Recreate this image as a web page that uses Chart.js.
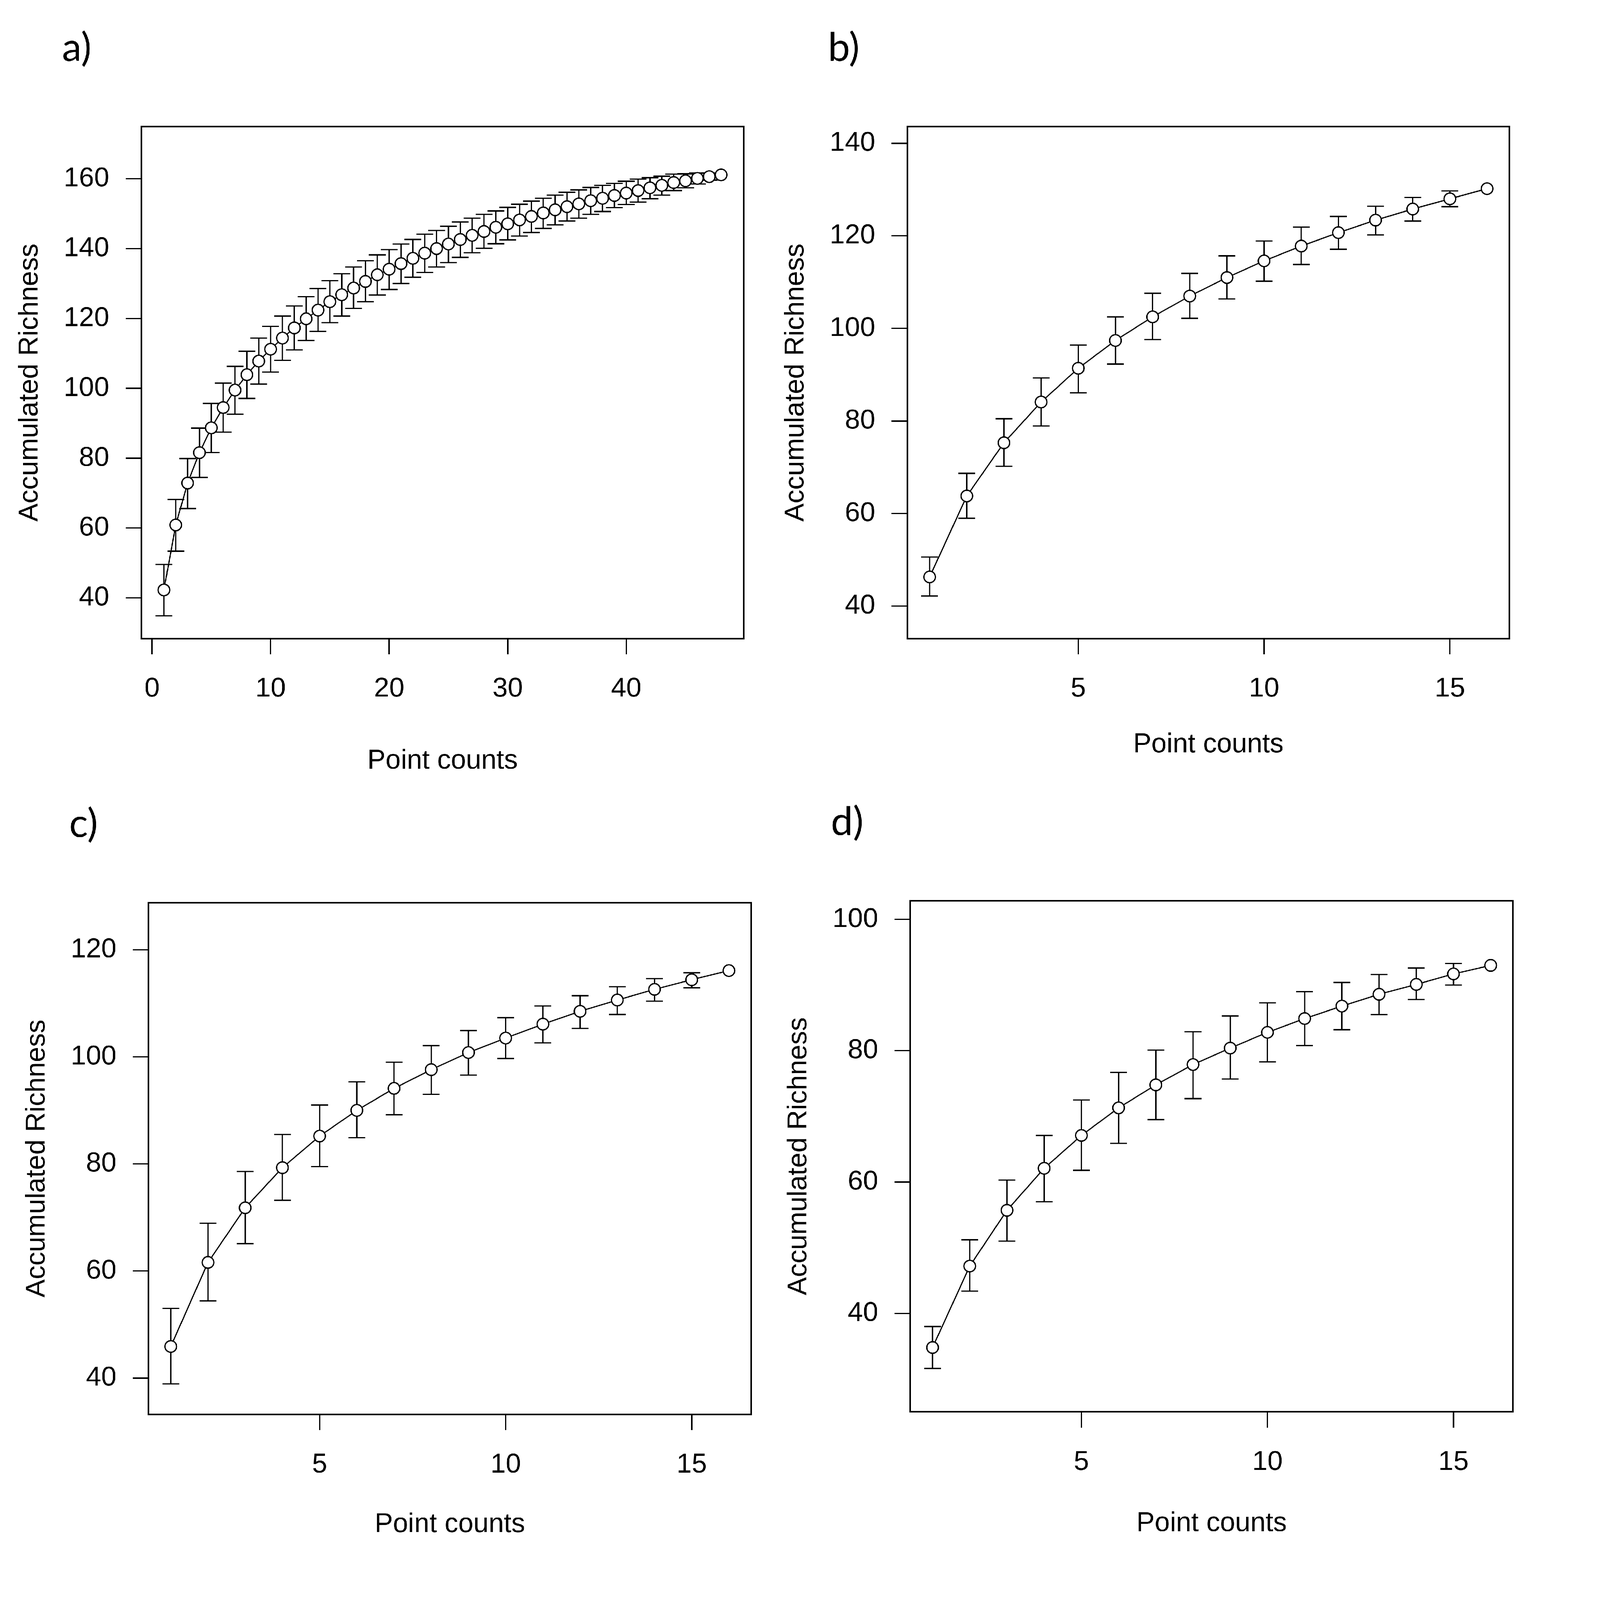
<!DOCTYPE html>
<html>
<head>
<meta charset="utf-8">
<script src="https://cdn.jsdelivr.net/npm/chart.js@4.4.1/dist/chart.umd.min.js"></script>
<style>
  html, body { margin: 0; padding: 0; background: #fff; overflow: hidden; }
  #page { position: relative; width: 6089px; height: 6089px; background: #fff; overflow: hidden; transform-origin: 0 0; }
  #page canvas { position: absolute; }
</style>
</head>
<body>
<div id="page"></div>
<script>
// ---- data ----
const pointsA = [1,2,3,4,5,6,7,8,9,10,11,12,13,14,15,16,17,18,19,20,21,22,23,24,
                 25,26,27,28,29,30,31,32,33,34,35,36,37,38,39,40,41,42,43,44,45,46,47,48];
const richA  = [42.3,60.9,72.9,81.6,88.7,94.5,99.5,103.9,107.8,111.2,114.4,117.3,119.9,122.4,124.8,126.8,
                128.7,130.6,132.5,134.1,135.7,137.2,138.7,140.0,141.3,142.6,143.8,144.9,146.1,147.1,148.2,149.2,
                150.2,151.1,152.0,152.8,153.7,154.4,155.2,155.9,156.6,157.4,158.1,158.9,159.4,160.1,160.6,161.1];
const upperA = [49.6,68.2,79.9,88.6,95.7,101.5,106.3,110.6,114.4,117.7,120.7,123.6,126.2,128.6,130.8,132.8,
                134.7,136.5,138.2,139.7,141.3,142.6,144.1,145.2,146.4,147.6,148.7,149.8,150.8,151.8,152.7,153.6,
                154.4,155.3,156.1,156.8,157.5,158.1,158.7,159.3,159.9,160.3,160.7,161.3,161.4,161.6,161.6,161.1];
const lowerA = [34.9,53.4,65.6,74.5,81.6,87.5,92.6,97.1,101.2,104.7,108.0,111.0,113.7,116.3,118.8,120.7,
                122.9,124.8,126.7,128.3,130.0,131.8,133.2,134.7,136.0,137.5,138.8,140.1,141.4,142.5,143.6,144.6,
                145.8,146.8,147.9,148.7,149.8,150.6,151.7,152.6,153.3,154.3,155.3,156.6,157.4,158.5,159.6,161.1];

const points16 = [1,2,3,4,5,6,7,8,9,10,11,12,13,14,15,16];

const richB  = [46.3,63.8,75.3,84.1,91.4,97.4,102.5,107.0,111.0,114.6,117.8,120.7,123.4,125.8,128.0,130.2];
const upperB = [50.6,68.7,80.5,89.3,96.4,102.5,107.6,111.9,115.7,118.9,121.9,124.2,126.4,128.3,129.7,130.2];
const lowerB = [42.2,59.0,70.2,78.9,86.1,92.3,97.6,102.2,106.4,110.2,113.8,117.1,120.2,123.2,126.3,130.2];

const richC  = [45.9,61.6,71.8,79.3,85.2,90.0,94.1,97.6,100.8,103.5,106.1,108.5,110.6,112.6,114.4,116.1];
const upperC = [53.0,68.9,78.6,85.5,91.0,95.3,99.0,102.1,104.9,107.3,109.5,111.4,113.1,114.6,115.7,116.1];
const lowerC = [38.9,54.4,65.1,73.2,79.5,84.9,89.2,93.0,96.6,99.7,102.6,105.3,107.9,110.4,112.9,116.1];

const richD  = [34.8,47.2,55.7,62.1,67.1,71.3,74.8,77.9,80.4,82.8,84.9,86.8,88.6,90.1,91.7,93.0];
const upperD = [38.0,51.2,60.3,67.1,72.5,76.7,80.1,82.9,85.3,87.3,89.0,90.4,91.6,92.6,93.3,93.0];
const lowerD = [31.6,43.4,51.0,57.0,61.8,65.9,69.5,72.7,75.7,78.3,80.8,83.2,85.5,87.8,90.0,93.0];

const xTicksA = [0,10,20,30,40];
const xTicks16 = [5,10,15];
const yTicksA = [40,60,80,100,120,140,160];
const yTicksB = [40,60,80,100,120,140];
const yTicksC = [40,60,80,100,120];
const yTicksD = [40,60,80,100];

const xTitle = 'Point counts';
const yTitle = 'Accumulated Richness';

// the page is laid out in figure pixels, then scaled to the window
const page = document.getElementById('page');
const fit = (document.documentElement.clientWidth || window.innerWidth) / 6089;
page.style.transform = 'scale(' + fit + ')';

// ---- plugins ----
const errorBars = {
  id: 'errorBars',
  beforeDatasetsDraw(chart, args, opts) {
    const {ctx, scales: {x, y}} = chart;
    ctx.save();
    ctx.strokeStyle = '#000';
    ctx.lineWidth = opts.width;
    opts.xs.forEach((xv, i) => {
      if (opts.upper[i] === opts.lower[i]) return;
      const px = x.getPixelForValue(xv);
      const top = y.getPixelForValue(opts.upper[i]);
      const bot = y.getPixelForValue(opts.lower[i]);
      ctx.beginPath();
      ctx.moveTo(px, top); ctx.lineTo(px, bot);
      ctx.moveTo(px - opts.cap, top); ctx.lineTo(px + opts.cap, top);
      ctx.moveTo(px - opts.cap, bot); ctx.lineTo(px + opts.cap, bot);
      ctx.stroke();
    });
    ctx.restore();
  }
};

const frame = {
  id: 'frame',
  afterDraw(chart) {
    const {ctx, chartArea: a} = chart;
    ctx.save();
    ctx.strokeStyle = '#000';
    ctx.lineWidth = 6;
    ctx.strokeRect(a.left, a.top, a.right - a.left, a.bottom - a.top);
    ctx.restore();
  }
};

const panelTag = {
  id: 'panelTag',
  afterDraw(chart, args, opts) {
    const ctx = chart.ctx;
    ctx.save();
    ctx.fillStyle = '#000';
    ctx.font = '150px Lato, "Open Sans", sans-serif';
    ctx.textBaseline = 'alphabetic';
    ctx.textAlign = 'left';
    ctx.fillText(opts.text, 236, 232);
    ctx.restore();
  }
};

// ---- layout: plot box in figure pixels ----
const LEFT = 538, TOP = 482, RIGHT = 80, BOTTOM = 615;
const font = {family: '"Liberation Sans", Arial, sans-serif', size: 104};

function makePanel(p) {
  const w = LEFT + (p.box[2] - p.box[0]) + RIGHT;
  const h = TOP + (p.box[3] - p.box[1]) + BOTTOM;
  const canvas = document.createElement('canvas');
  canvas.width = w; canvas.height = h;
  canvas.style.width = w + 'px'; canvas.style.height = h + 'px';
  canvas.style.left = (p.box[0] - LEFT) + 'px';
  canvas.style.top = (p.box[1] - TOP) + 'px';
  page.appendChild(canvas);

  const axisCommon = {
    grid: {drawOnChartArea: false, drawTicks: true, tickLength: 60, lineWidth: 5, color: '#000'},
    border: {display: true, color: '#000', width: 6}
  };

  new Chart(canvas, {
    type: 'line',
    data: {
      datasets: [{
        data: p.xs.map((x, i) => ({x: x, y: p.rich[i]})),
        borderColor: '#000',
        borderWidth: 4.5,
        tension: 0,
        pointRadius: 22,
        pointBorderWidth: 5,
        pointBackgroundColor: '#fff',
        pointBorderColor: '#000'
      }]
    },
    options: {
      responsive: false,
      animation: false,
      devicePixelRatio: 1,
      layout: {padding: {left: 0, top: TOP, right: RIGHT, bottom: 0}},
      plugins: {
        legend: {display: false},
        tooltip: {enabled: false},
        errorBars: {xs: p.xs, upper: p.upper, lower: p.lower, cap: 32, width: 5},
        panelTag: {text: p.tag}
      },
      scales: {
        x: Object.assign({}, axisCommon, {
          type: 'linear',
          min: p.xRange[0], max: p.xRange[1],
          afterBuildTicks: s => { s.ticks = p.xTicks.map(v => ({value: v})); },
          afterFit: s => { s.height = BOTTOM; },
          ticks: {font: font, color: '#000', padding: 70, maxRotation: 0, callback: v => String(v)},
          title: {display: true, text: xTitle, font: font, color: '#000',
                  padding: {top: 0, bottom: p.xTitlePad}}
        }),
        y: Object.assign({}, axisCommon, {
          type: 'linear',
          min: p.yRange[0], max: p.yRange[1],
          afterBuildTicks: s => { s.ticks = p.yTicks.map(v => ({value: v})); },
          afterFit: s => { s.width = LEFT; },
          ticks: {font: font, color: '#000', padding: 62, callback: v => String(v)},
          title: {display: true, text: yTitle, font: font, color: '#000',
                  padding: {top: 52, bottom: 0}}
        })
      }
    },
    plugins: [errorBars, frame, panelTag]
  });
}

makePanel({tag: 'a)', box: [538, 482, 2830, 2430], xs: pointsA, rich: richA, upper: upperA, lower: lowerA,
           xRange: [-0.9, 49.9], yRange: [28.4, 174.9], xTicks: xTicksA, yTicks: yTicksA, xTitlePad: 86});
makePanel({tag: 'b)', box: [3453, 482, 5744, 2430], xs: points16, rich: richB, upper: upperB, lower: lowerB,
           xRange: [0.4, 16.6], yRange: [33.0, 143.6], xTicks: xTicks16, yTicks: yTicksB, xTitlePad: 148});
makePanel({tag: 'c)', box: [565, 3435, 2859, 5383], xs: points16, rich: richC, upper: upperC, lower: lowerC,
           xRange: [0.4, 16.6], yRange: [33.2, 128.8], xTicks: xTicks16, yTicks: yTicksC, xTitlePad: 133});
makePanel({tag: 'd)', box: [3464, 3428, 5758, 5373], xs: points16, rich: richD, upper: upperD, lower: lowerD,
           xRange: [0.4, 16.6], yRange: [25.0, 102.84], xTicks: xTicks16, yTicks: yTicksD, xTitlePad: 127});
</script>
</body>
</html>
